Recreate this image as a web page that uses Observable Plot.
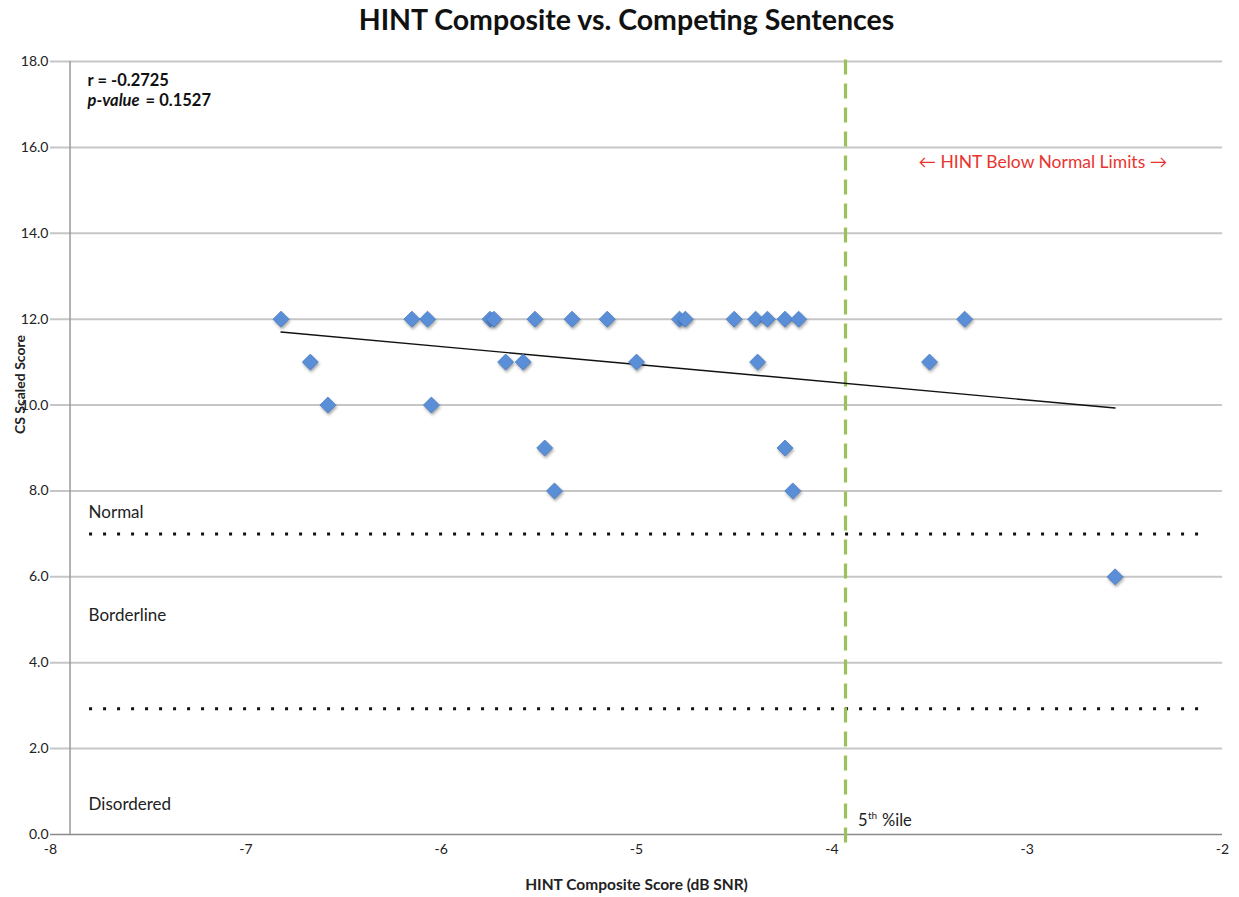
<!DOCTYPE html>
<html>
<head>
<meta charset="utf-8">
<script src="https://cdn.jsdelivr.net/npm/d3@7"></script>
<script src="https://cdn.jsdelivr.net/npm/@observablehq/plot@0.6"></script>
<style>
  html, body { margin: 0; padding: 0; background: #fff; }
  #chart svg { display: block; }
  .pts path { filter: drop-shadow(1px 2px 1.5px rgba(0,0,0,0.35)); }
</style>
</head>
<body>
<div id="chart"></div>
<script>
// HINT composite score (dB SNR) for each subject
const hintScores = [
  -6.82, -6.15, -6.07, -5.75, -5.73, -5.52, -5.33, -5.15, -4.78, -4.75, -4.50, -4.39, -4.33, -4.24, -4.17, -3.32,
  -6.67, -5.67, -5.58, -5.00, -4.38, -3.50,
  -6.58, -6.05,
  -5.47, -4.24,
  -5.42, -4.20,
  -2.55
];
// Competing Sentences scaled score for each subject
const csScores = [
  12, 12, 12, 12, 12, 12, 12, 12, 12, 12, 12, 12, 12, 12, 12, 12,
  11, 11, 11, 11, 11, 11,
  10, 10,
  9, 9,
  8, 8,
  6
];
const xTicks = [-8, -7, -6, -5, -4, -3, -2];
const yTicks = [0, 2, 4, 6, 8, 10, 12, 14, 16, 18];
const percentile5 = -3.93;
const categoryCutoffs = [7, 2.93];
const yAxisCross = -7.9;
const categoryLabels = [
  {label: "Normal", x: -7.805, y: 7.5},
  {label: "Borderline", x: -7.805, y: 5.1},
  {label: "Disordered", x: -7.805, y: 0.7}
];

const data = hintScores.map((h, i) => ({hint: h, cs: csScores[i]}));
const font = "Lato, 'Open Sans', sans-serif";

const chart = Plot.plot({
  width: 1239,
  height: 897,
  marginLeft: 50,
  marginRight: 17,
  marginTop: 61,
  marginBottom: 63,
  style: {fontFamily: font, fontSize: "14px", color: "#222", background: "#fff"},
  x: {domain: [-8, -2], ticks: xTicks, tickSize: 0, tickPadding: 10, tickFormat: d => d3.format("d")(d).replace("−", "-"), label: null},
  y: {domain: [0, 18], ticks: yTicks, tickSize: 0, tickPadding: 2, tickFormat: d => d.toFixed(1), label: null},
  marks: [
    Plot.ruleY(yTicks.filter(d => d > 0), {stroke: "#c6c6c6", strokeWidth: 2}),
    Plot.ruleY([0], {stroke: "#8a8a8a", strokeWidth: 1.5}),
    Plot.ruleX([yAxisCross], {y1: 0, y2: 18, stroke: "#9a9a9a", strokeWidth: 1.5}),
    Plot.ruleY(categoryCutoffs, {x1: -7.8, x2: -2.1, stroke: "#111", strokeWidth: 3, strokeDasharray: "3,11"}),
    Plot.ruleX([percentile5], {y1: -0.2, y2: 18.1, stroke: "#9bc25a", strokeWidth: 3.2, strokeDasharray: "15,9"}),
    Plot.linearRegressionY(data, {x: "hint", y: "cs", ci: 0, stroke: "#111", strokeWidth: 1.4}),
    Plot.dot(data, {x: "hint", y: "cs", symbol: "diamond2", r: 7.2, fill: "#5a8fd8", stroke: "#4a7cc4", strokeWidth: 0.8, className: "pts"}),
    // annotations
    Plot.text(categoryLabels, {x: "x", y: "y", text: "label", textAnchor: "start", fontSize: 17, fill: "#222"}),
    Plot.text(["5"], {x: percentile5 + 0.064, y: 0.33, textAnchor: "start", fontSize: 16.5, fill: "#222"}),
    Plot.text(["th"], {x: percentile5 + 0.064, y: 0.33, dx: 10, dy: -5, textAnchor: "start", fontSize: 10, fill: "#222"}),
    Plot.text(["%ile"], {x: percentile5 + 0.064, y: 0.33, dx: 24, textAnchor: "start", fontSize: 16.5, fill: "#222"}),
    Plot.text(["← HINT Below Normal Limits →"], {x: -2.92, y: 15.65, fontSize: 17.5, fill: "#e8342f"}),
    Plot.text(["r = -0.2725"], {x: -7.81, y: 17.55, textAnchor: "start", fontSize: 16.5, fontWeight: "bold", fill: "#111"}),
    Plot.text(["p-value"], {x: -7.81, y: 17.09, textAnchor: "start", fontSize: 16.5, fontWeight: "bold", fontStyle: "italic", fill: "#111"}),
    Plot.text(["= 0.1527"], {x: -7.81, y: 17.09, dx: 58, textAnchor: "start", fontSize: 16.5, fontWeight: "bold", fill: "#111"}),
    // titles
    Plot.text(["HINT Composite vs. Competing Sentences"], {frameAnchor: "top", lineAnchor: "middle", dx: -10, dy: -41, fontSize: 28.5, fontWeight: "bold", fill: "#111"}),
    Plot.text(["HINT Composite Score (dB SNR)"], {frameAnchor: "bottom", lineAnchor: "middle", dy: 51, fontSize: 15.5, fontWeight: "bold", fill: "#222"}),
    Plot.text(["CS Scaled Score"], {frameAnchor: "left", lineAnchor: "middle", dx: -30, dy: -14, rotate: -90, fontSize: 14, fontWeight: "bold", fill: "#222"})
  ]
});
document.getElementById("chart").appendChild(chart);
</script>
</body>
</html>
